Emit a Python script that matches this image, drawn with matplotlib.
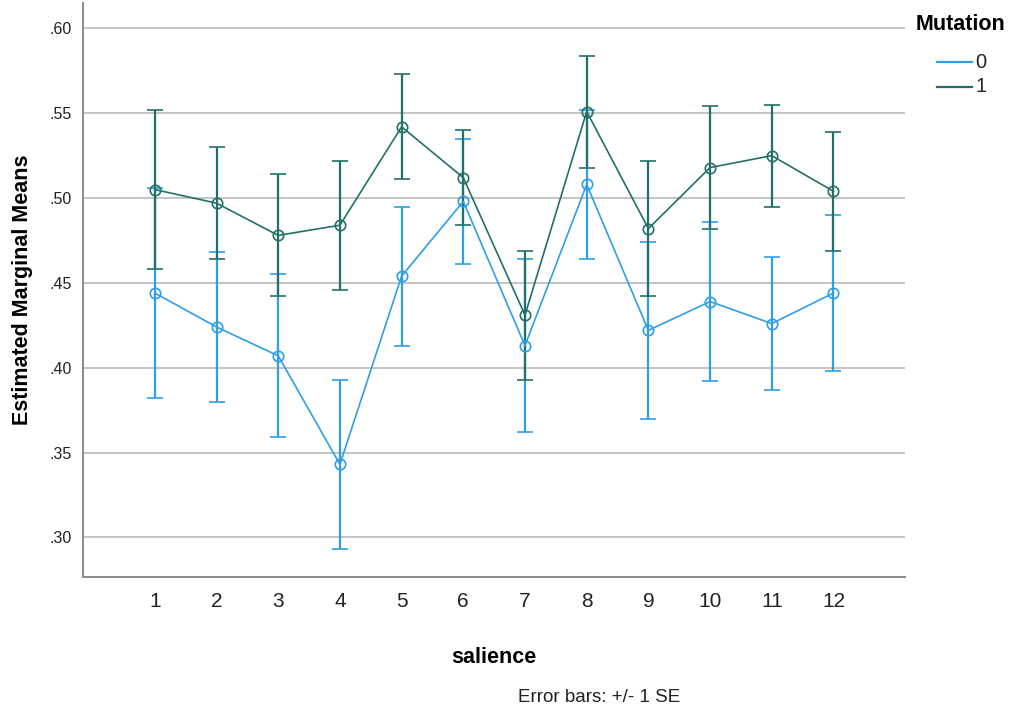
import matplotlib.pyplot as plt
from matplotlib.lines import Line2D

plt.rcParams['font.family'] = ['Liberation Sans', 'DejaVu Sans']

# salience levels on the x axis
salience = [1, 2, 3, 4, 5, 6, 7, 8, 9, 10, 11, 12]

# Mutation = 0
mean_0 = [0.444, 0.424, 0.407, 0.343, 0.454, 0.498, 0.413, 0.508, 0.422, 0.439, 0.426, 0.444]
se_0 = [0.062, 0.044, 0.048, 0.050, 0.041, 0.037, 0.051, 0.044, 0.052, 0.047, 0.039, 0.046]

# Mutation = 1
mean_1 = [0.505, 0.497, 0.478, 0.484, 0.542, 0.512, 0.431, 0.551, 0.482, 0.518, 0.525, 0.504]
se_1 = [0.047, 0.033, 0.036, 0.038, 0.031, 0.028, 0.038, 0.033, 0.040, 0.036, 0.030, 0.035]

groups = ['0', '1']
colors = ['#2E9FE6', '#22706A']

W, H = 1013, 713
fig = plt.figure(figsize=(W / 100, H / 100), dpi=100)
ax = fig.add_axes([0.0816, 0.1912, 0.8118, 0.8046])

for means, ses, col in zip([mean_0, mean_1], [se_0, se_1], colors):
    ax.errorbar(salience, means, yerr=ses, color=col, linewidth=1.2,
                elinewidth=1.6, capsize=5.5, capthick=1.6,
                marker='o', markersize=7.5, markerfacecolor='none',
                markeredgecolor=col, markeredgewidth=1.2)

ax.set_xlim(-0.17, 13.16)
ax.set_ylim(0.2768, 0.615)
ax.set_xticks(salience)
ax.set_xticklabels([str(s) for s in salience], fontsize=15, color='#222222')
yt = [0.30, 0.35, 0.40, 0.45, 0.50, 0.55, 0.60]
ax.set_yticks(yt)
ax.set_yticklabels(['.30', '.35', '.40', '.45', '.50', '.55', '.60'],
                   fontsize=11.5, color='#222222')
ax.tick_params(axis='x', length=0, pad=11)
ax.tick_params(axis='y', length=0, pad=8)

ax.yaxis.grid(True, color='#C4C4C4', linewidth=1.4)
ax.set_axisbelow(True)
for side in ['top', 'right']:
    ax.spines[side].set_visible(False)
for side in ['left', 'bottom']:
    ax.spines[side].set_color('#8A8A8A')
    ax.spines[side].set_linewidth(1.4)

ax.set_ylabel('Estimated Marginal Means', fontsize=15.5, fontweight='bold', labelpad=12)
ax.set_xlabel('salience', fontsize=15.5, fontweight='bold', labelpad=26)

fig.text(0.591, 0.022, 'Error bars: +/- 1 SE', fontsize=13.5, ha='center', va='center',
         color='#222222')

# legend drawn by hand (pixel positions from the top-left corner)
fig.text(916 / W, 1 - 25 / H, 'Mutation', fontsize=15.5, fontweight='bold',
         ha='left', va='center')
for i, (lab, col) in enumerate(zip(groups, colors)):
    yy = 1 - (62 + 25 * i) / H
    fig.add_artist(Line2D([937 / W, 972 / W], [yy, yy], color=col, linewidth=1.6,
                          transform=fig.transFigure))
    fig.text(975 / W, yy, lab, fontsize=14.5, ha='left', va='center', color='#222222')

fig.savefig('out.png', dpi=100)
